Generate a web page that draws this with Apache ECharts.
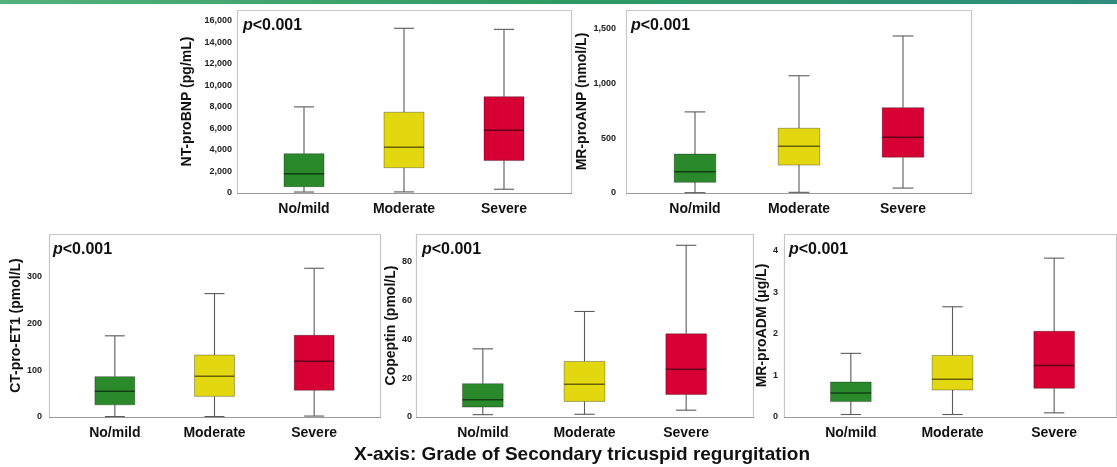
<!DOCTYPE html>
<html>
<head>
<meta charset="utf-8">
<script src="https://cdn.jsdelivr.net/npm/echarts@6/dist/echarts.min.js"></script>
<style>
html,body{margin:0;padding:0;background:#fff;}
#chart{width:1117px;height:467px;}
</style>
</head>
<body>
<div id="chart"></div>
<script>
// ---------------- data ----------------
const categories = ['No/mild', 'Moderate', 'Severe'];
// each group: [min, Q1, median, Q3, max]
const ntProBNP   = [[90, 590, 1780, 3650, 8000], [100, 2350, 4260, 7500, 15300], [350, 3030, 5840, 8950, 15200]];
const mrProANP   = [[3, 97, 195, 355, 740], [6, 255, 427, 591, 1070], [45, 327, 509, 779, 1433]];
const ctProET1   = [[1, 26, 55, 86, 173], [1, 44, 87, 132, 263], [2, 57, 119, 174, 317]];
const copeptin   = [[1.2, 5.1, 8.9, 17.1, 35], [1.4, 8, 16.8, 28.5, 54.2], [3.5, 11.6, 24.5, 42.7, 88.2]];
const mrProADM   = [[0.06, 0.37, 0.58, 0.84, 1.53], [0.06, 0.65, 0.91, 1.48, 2.65], [0.10, 0.69, 1.24, 2.06, 3.82]];

const ntProBNPTicks = [0, 2000, 4000, 6000, 8000, 10000, 12000, 14000, 16000];
const mrProANPTicks = [0, 500, 1000, 1500];
const ctProET1Ticks = [0, 100, 200, 300];
const copeptinTicks = [0, 20, 40, 60, 80];
const mrProADMTicks = [0, 1, 2, 3, 4];

const yNames = ['NT-proBNP (pg/mL)', 'MR-proANP (nmol/L)', 'CT-pro-ET1 (pmol/L)', 'Copeptin (pmol/L)', 'MR-proADM (\u03bcg/L)'];
const pText = 'p<0.001';
const xTitle = 'X-axis: Grade of Secondary tricuspid regurgitation';

// ---------------- styles / layout ----------------
const boxColors = ['#2a8a2b', '#e3d80f', '#d70035'];
const FONT = '"Liberation Sans", Arial, Helvetica, sans-serif';

const panels = [
  {data: ntProBNP, ticks: ntProBNPTicks, name: yNames[0], max: 17000,
   grid: {left: 254, right: 563, top: 10, bottom: 274}, frame: [237, 10, 334, 183],
   labelMargin: 22, nameGap: 60, pPos: [243, 17]},
  {data: mrProANP, ticks: mrProANPTicks, name: yNames[1], max: 1670,
   grid: {left: 643, right: 162, top: 10, bottom: 274}, frame: [626, 10, 345, 183],
   labelMargin: 27, nameGap: 49, pPos: [631, 17]},
  {data: ctProET1, ticks: ctProET1Ticks, name: yNames[2], max: 390,
   grid: {left: 65, right: 753, top: 234, bottom: 50}, frame: [49, 234, 331, 183],
   labelMargin: 23, nameGap: 41, pPos: [53, 241]},
  {data: copeptin, ticks: copeptinTicks, name: yNames[3], max: 94,
   grid: {left: 432, right: 380, top: 234, bottom: 50}, frame: [416, 234, 337, 183],
   labelMargin: 20, nameGap: 33, pPos: [422, 241]},
  {data: mrProADM, ticks: mrProADMTicks, name: yNames[4], max: 4.4,
   grid: {left: 800, right: 12, top: 234, bottom: 50}, frame: [784, 234, 332, 183],
   labelMargin: 22, nameGap: 29, pPos: [789, 241]}
];

function fmt(v) {
  return String(v).replace(/\B(?=(\d{3})+(?!\d))/g, ',');
}

function renderBox(params, api) {
  const i = api.value(0);
  const lo = api.coord([i, api.value(1)]);
  const q1 = api.coord([i, api.value(2)]);
  const md = api.coord([i, api.value(3)]);
  const q3 = api.coord([i, api.value(4)]);
  const hi = api.coord([i, api.value(5)]);
  const band = api.size([1, 0])[0];
  const bw = band * 0.4, cw = band * 0.2;
  const cx = lo[0];
  const ws = {stroke: '#5a5a5a', lineWidth: 1.1};
  return {
    type: 'group',
    children: [
      {type: 'line', shape: {x1: cx, y1: hi[1], x2: cx, y2: q3[1]}, style: ws},
      {type: 'line', shape: {x1: cx, y1: q1[1], x2: cx, y2: lo[1]}, style: ws},
      {type: 'line', shape: {x1: cx - cw / 2, y1: hi[1], x2: cx + cw / 2, y2: hi[1]}, style: ws},
      {type: 'line', shape: {x1: cx - cw / 2, y1: lo[1], x2: cx + cw / 2, y2: lo[1]}, style: ws},
      {type: 'rect', shape: {x: cx - bw / 2, y: q3[1], width: bw, height: q1[1] - q3[1]},
       style: {fill: boxColors[i], stroke: 'rgba(0,0,0,0.3)', lineWidth: 1}},
      {type: 'line', shape: {x1: cx - bw / 2, y1: md[1], x2: cx + bw / 2, y2: md[1]},
       style: {stroke: 'rgba(0,0,0,0.55)', lineWidth: 1.5}}
    ]
  };
}

const grids = [], xAxes = [], yAxes = [], series = [], titles = [];
const graphics = [
  {type: 'rect', shape: {x: 0, y: 0, width: 1117, height: 4}, z: 10,
   style: {fill: {type: 'linear', x: 0, y: 0, x2: 1, y2: 0,
     colorStops: [{offset: 0, color: '#55b07c'}, {offset: 0.5, color: '#2e9a62'}, {offset: 1, color: '#2f8c7e'}]}}},
  {type: 'text', x: 582, y: 455, z: 10,
   style: {text: xTitle, font: 'bold 19px ' + FONT, fill: '#111', align: 'center', verticalAlign: 'middle'}}
];

panels.forEach((p, k) => {
  grids.push(Object.assign({show: false}, p.grid));
  xAxes.push({
    type: 'category', gridIndex: k, data: categories, boundaryGap: true,
    axisLine: {show: false}, axisTick: {show: false},
    axisLabel: {color: '#111', fontFamily: FONT, fontWeight: 'bold', fontSize: 14, margin: 9}
  });
  const step = p.ticks[1] - p.ticks[0];
  yAxes.push({
    type: 'value', gridIndex: k, min: p.ticks[0], max: p.max, interval: step,
    name: p.name, nameLocation: 'middle', nameGap: p.nameGap,
    nameTextStyle: {color: '#111', fontFamily: FONT, fontWeight: 'bold', fontSize: 14},
    axisLine: {show: false}, axisTick: {show: false}, splitLine: {show: false},
    axisLabel: {color: '#222', fontFamily: FONT, fontWeight: 'bold', fontSize: 9, margin: p.labelMargin,
      showMaxLabel: false,
      formatter: v => (p.ticks.indexOf(v) >= 0 ? fmt(v) : '')}
  });
  series.push({
    type: 'custom', xAxisIndex: k, yAxisIndex: k,
    renderItem: renderBox,
    encode: {x: 0, y: [1, 2, 3, 4, 5]},
    data: categories.map((c, i) => [i].concat(p.data[i])),
    z: 5
  });
  const f = p.frame;
  graphics.push({type: 'rect', shape: {x: f[0] + 0.5, y: f[1] + 0.5, width: f[2], height: f[3]}, z: 1,
    style: {fill: 'none', stroke: '#c6c6c6', lineWidth: 1.2}});
  graphics.push({type: 'line', shape: {x1: f[0], y1: f[1] + f[3] + 0.5, x2: f[0] + f[2] + 1, y2: f[1] + f[3] + 0.5}, z: 2,
    style: {stroke: '#9a9a9a', lineWidth: 1.2}});
  titles.push({
    text: '{i|' + pText.charAt(0) + '}' + pText.slice(1), left: p.pPos[0], top: p.pPos[1], padding: 0,
    textStyle: {fontFamily: FONT, fontWeight: 'bold', fontSize: 16, color: '#111', lineHeight: 18,
      rich: {i: {fontFamily: FONT, fontWeight: 'bold', fontStyle: 'italic', fontSize: 16, color: '#111', lineHeight: 18}}}
  });
});

const chart = echarts.init(document.getElementById('chart'), null, {renderer: 'canvas'});
chart.setOption({
  animation: false,
  backgroundColor: '#fff',
  title: titles,
  grid: grids,
  xAxis: xAxes,
  yAxis: yAxes,
  series: series,
  graphic: graphics
});
</script>
</body>
</html>
